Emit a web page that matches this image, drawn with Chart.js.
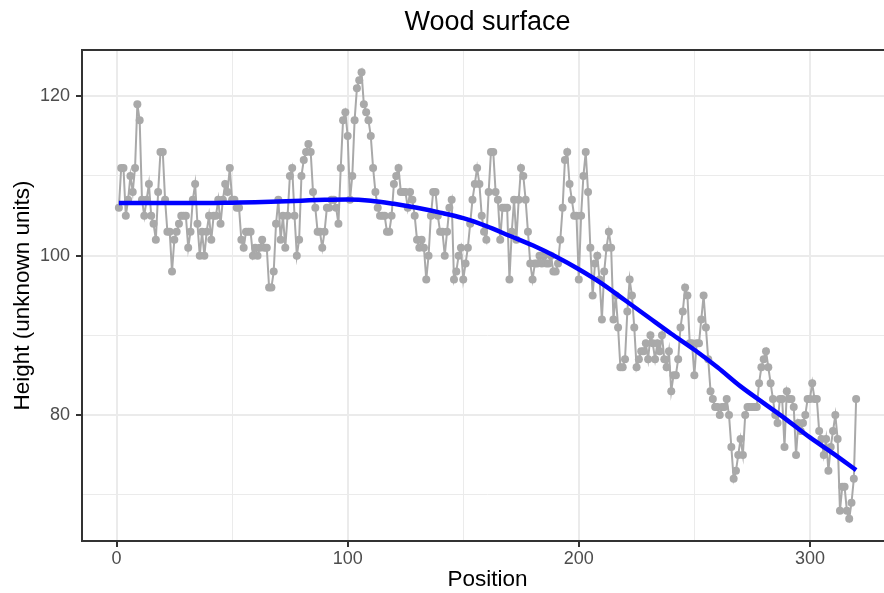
<!DOCTYPE html>
<html>
<head>
<meta charset="utf-8">
<script src="https://cdn.jsdelivr.net/npm/chart.js@4/dist/chart.umd.min.js"></script>
<style>
  html, body { margin: 0; padding: 0; overflow: hidden; background: #ffffff; }
  #chart { display: block; }
</style>
</head>
<body>
<canvas id="chart" width="897" height="593"></canvas>
<script>
// measured heights along the surface, one per position (1..320)
const heights = [
    106, 111, 111, 105, 107, 110, 108, 111, 119, 117,
    107, 105, 107, 109, 105, 104, 102, 108, 113, 113,
    107, 103, 103, 98, 102, 103, 104, 105, 105, 105,
    101, 103, 107, 109, 104, 100, 103, 100, 103, 105,
    102, 105, 105, 107, 104, 107, 109, 108, 111, 107,
    107, 106, 106, 102, 101, 103, 103, 103, 100, 101,
    100, 101, 102, 101, 101, 96, 96, 98, 104, 107,
    102, 105, 101, 105, 110, 111, 105, 100, 102, 110,
    112, 113, 114, 113, 108, 106, 103, 103, 101, 103,
    106, 106, 107, 107, 106, 104, 111, 117, 118, 115,
    107, 110, 117, 121, 122, 123, 119, 118, 117, 115,
    111, 108, 106, 105, 105, 105, 103, 103, 105, 109,
    110, 111, 108, 108, 108, 106, 108, 107, 105, 102,
    101, 102, 101, 97, 100, 105, 108, 108, 105, 103,
    103, 100, 103, 106, 107, 97, 98, 100, 101, 97,
    99, 101, 104, 107, 109, 111, 109, 105, 103, 102,
    108, 113, 113, 108, 107, 102, 106, 106, 106, 97,
    103, 107, 102, 107, 111, 110, 107, 103, 99, 97,
    99, 99, 100, 99, 100, 99, 99, 100, 98, 98,
    99, 102, 106, 112, 113, 109, 107, 105, 105, 97,
    105, 110, 113, 108, 101, 95, 99, 100, 97, 92,
    98, 101, 103, 101, 92, 95, 91, 86, 86, 87,
    93, 97, 95, 91, 86, 87, 88, 88, 89, 87,
    90, 89, 87, 89, 88, 90, 87, 86, 88, 83,
    85, 85, 87, 91, 93, 96, 95, 89, 89, 85,
    89, 89, 92, 95, 91, 87, 83, 82, 81, 81,
    80, 81, 81, 82, 80, 76, 72, 73, 75, 77,
    75, 80, 81, 81, 81, 81, 81, 84, 86, 87,
    88, 86, 84, 82, 80, 79, 82, 82, 76, 83,
    82, 82, 81, 75, 79, 78, 79, 80, 82, 82,
    84, 82, 82, 78, 77, 75, 77, 73, 76, 78,
    80, 77, 68, 71, 71, 68, 67, 69, 72, 82
];
const positions = heights.map((_, i) => i + 1);

// smoothed trend
const smoothPositions = [1, 10, 20, 30, 40, 50, 60, 70, 80, 90, 100, 110, 120, 130, 140, 150, 160,
    170, 180, 190, 200, 210, 220, 230, 240, 250, 260, 270, 280, 290, 300, 310, 320];
const smoothHeights = [106.6, 106.6, 106.6, 106.6, 106.6, 106.65, 106.7, 106.8, 106.9, 107.0, 107.05,
    106.9, 106.5, 106.0, 105.4, 104.7, 103.7, 102.5, 101.3, 99.9, 98.3, 96.5, 94.4, 92.3, 90.2,
    88.2, 86.0, 83.6, 81.5, 79.4, 77.2, 75.2, 73.1];

const xTicks = [0, 50, 100, 150, 200, 250, 300];
const xMajor = [0, 100, 200, 300];
const yTicks = [70, 80, 90, 100, 110, 120];
const yMajor = [80, 100, 120];

const FONT = "'Liberation Sans', Arial, Helvetica, sans-serif";

const panelBorder = {
    id: 'panelBorder',
    afterDraw(chart) {
        const { ctx, chartArea: a } = chart;
        ctx.save();
        ctx.strokeStyle = '#333333';
        ctx.lineWidth = 2;
        ctx.strokeRect(a.left, a.top, a.right - a.left, a.bottom - a.top);
        ctx.restore();
    }
};

function gridFor(major) {
    return {
        color: '#EBEBEB',
        lineWidth: (c) => (major.includes(c.tick && c.tick.value) ? 2 : 1),
        drawTicks: true,
        tickLength: 6,
        tickColor: (c) => (major.includes(c.tick && c.tick.value) ? '#333333' : 'rgba(0,0,0,0)'),
        tickWidth: 2
    };
}

new Chart(document.getElementById('chart').getContext('2d'), {
    type: 'line',
    data: {
        datasets: [
            {
                label: 'Smooth',
                data: smoothPositions.map((p, i) => ({ x: p, y: smoothHeights[i] })),
                borderColor: '#0000FF',
                borderWidth: 4.5,
                pointRadius: 0,
                cubicInterpolationMode: 'monotone',
                fill: false,
                order: 0
            },
            {
                label: 'Height',
                data: positions.map((p, i) => ({ x: p, y: heights[i] })),
                borderColor: '#A9A9A9',
                backgroundColor: '#A9A9A9',
                borderWidth: 2,
                pointRadius: 4,
                pointBorderWidth: 0,
                pointBackgroundColor: '#A9A9A9',
                tension: 0,
                fill: false,
                order: 1
            }
        ]
    },
    options: {
        responsive: false,
        animation: false,
        layout: { padding: 0 },
        plugins: {
            legend: { display: false },
            tooltip: { enabled: false },
            title: {
                display: true,
                text: 'Wood surface',
                fullSize: false,
                color: '#000000',
                font: { family: FONT, size: 27, weight: 'normal' },
                padding: { top: 6.8, bottom: 10.8 }
            }
        },
        scales: {
            x: {
                type: 'linear',
                min: -14.95,
                max: 335.95,
                afterBuildTicks: (s) => { s.ticks = xTicks.map((v) => ({ value: v })); },
                afterFit: (s) => { s.height = 52; },
                border: { display: false },
                grid: gridFor(xMajor),
                ticks: {
                    color: '#4D4D4D',
                    font: { family: FONT, size: 18 },
                    padding: 1.5,
                    maxRotation: 0,
                    autoSkip: false,
                    callback: (v) => (xMajor.includes(v) ? String(v) : '')
                },
                title: {
                    display: true,
                    text: 'Position',
                    color: '#000000',
                    font: { family: FONT, size: 22.5 },
                    padding: { top: 0, bottom: 0 }
                }
            },
            y: {
                type: 'linear',
                min: 64.2,
                max: 125.8,
                afterBuildTicks: (s) => { s.ticks = yTicks.map((v) => ({ value: v })); },
                afterFit: (s) => { s.width = 82; },
                border: { display: false },
                grid: gridFor(yMajor),
                ticks: {
                    color: '#4D4D4D',
                    font: { family: FONT, size: 18 },
                    padding: 6,
                    autoSkip: false,
                    callback: (v) => (yMajor.includes(v) ? String(v) : '')
                },
                title: {
                    display: true,
                    text: 'Height (unknown units)',
                    color: '#000000',
                    font: { family: FONT, size: 22.5 },
                    padding: { top: 9, bottom: 0 }
                }
            }
        }
    },
    plugins: [panelBorder]
});
</script>
</body>
</html>
